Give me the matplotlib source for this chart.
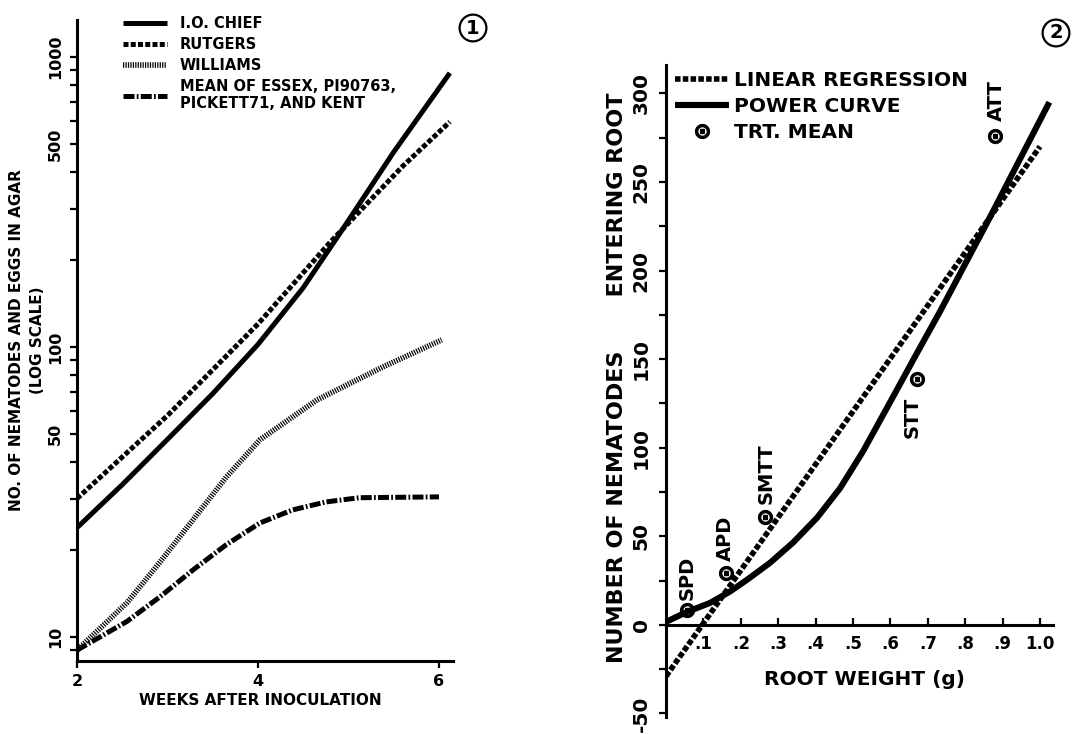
import numpy as np
import matplotlib.pyplot as plt
from matplotlib.ticker import FixedLocator, LogLocator, NullFormatter

plt.rcParams['font.family'] = ['DejaVu Sans']
plt.rcParams['font.weight'] = 'bold'
plt.rcParams['axes.labelweight'] = 'bold'

#%% data panel 1 (weeks after inoculation, log counts)
weeks_chief = [2.0, 2.5, 3.0, 3.5, 4.0, 4.5, 4.9, 5.5, 6.12]
chief = [23.8, 33.5, 48, 69, 102, 160, 245, 470, 880]

weeks_rutgers = [2.0, 3.0, 4.0, 4.8, 5.6, 6.12]
rutgers = [30, 58, 120, 230, 420, 597]

weeks_williams = [2.0, 2.55, 2.91, 3.28, 3.65, 4.02, 4.65, 5.38, 6.03]
williams = [9.0, 13.1, 18.0, 25.3, 35.6, 47.8, 65.6, 85.3, 105.7]

weeks_mean = [2.0, 2.55, 2.91, 3.28, 3.65, 4.02, 4.38, 4.75, 5.12, 6.0]
mean4 = [9.0, 11.3, 13.7, 17.0, 20.8, 24.7, 27.4, 29.2, 30.2, 30.4]

y1_ticks = [10, 50, 100, 500, 1000]
x1_ticks = [2, 4, 6]

#%% data panel 2 (root weight vs nematodes)
lin_x = [0.0, 1.0]
lin_y = [-29, 270]

pow_x = [0.0, 0.056, 0.118, 0.171, 0.217, 0.278, 0.34, 0.404, 0.465, 0.527,
         0.6, 0.67, 0.733, 0.866, 1.025]
pow_y = [1.7, 7.3, 12.4, 18.8, 25.5, 35, 46.5, 60.5, 77, 98,
         126, 153, 177, 230, 295]

trt_names = ['SPD', 'APD', 'SMTT', 'STT', 'ATT']
trt_x = [0.056, 0.16, 0.265, 0.67, 0.88]
trt_y = [8.5, 29, 61, 139, 276]

x2_ticks = [0.1, 0.2, 0.3, 0.4, 0.5, 0.6, 0.7, 0.8, 0.9, 1.0]
x2_labels = ['.1', '.2', '.3', '.4', '.5', '.6', '.7', '.8', '.9', '1.0']
y2_ticks = [-50, 0, 50, 100, 150, 200, 250, 300]
y2_minor = [-25, 25, 75, 125, 175, 225, 275]

fig = plt.figure(figsize=(10.88, 7.34), dpi=100)

################################################################################
#                                  panel 1                                     #
################################################################################
ax1 = fig.add_axes([77/1088, 73/734, 376/1088, 641/734])
ax1.set_yscale('log')
ax1.plot(weeks_chief, chief, color='k', lw=3.6, solid_capstyle='butt', label='I.O. CHIEF')
ax1.plot(weeks_rutgers, rutgers, color='k', lw=3.6, dashes=(1.0, 0.45),
         dash_capstyle='butt', label='RUTGERS')
ax1.plot(weeks_williams, williams, color='k', lw=4.0, dashes=(0.22, 0.22),
         dash_capstyle='butt', label='WILLIAMS')
ax1.plot(weeks_mean, mean4, color='k', lw=3.6, dashes=(2.2, 0.45, 0.35, 0.45),
         dash_capstyle='butt', label='MEAN OF ESSEX, PI90763,\nPICKETT71, AND KENT')

ax1.set_xlim(2, 2 + 376/90.5)
ax1.set_ylim(8.26, 1340)
for s in ['top', 'right']:
    ax1.spines[s].set_visible(False)
for s in ['left', 'bottom']:
    ax1.spines[s].set_linewidth(2.2)

ax1.yaxis.set_major_locator(FixedLocator(y1_ticks))
ax1.set_yticklabels([str(t) for t in y1_ticks], va='center')
ax1.yaxis.set_minor_locator(LogLocator(base=10, subs=np.arange(1, 10), numticks=20))
ax1.yaxis.set_minor_formatter(NullFormatter())
ax1.tick_params(axis='y', which='both', direction='out', length=5, width=1.6,
                pad=5, labelsize=11.5, labelrotation=90)
ax1.set_xticks(x1_ticks)
ax1.set_xticklabels([str(t) for t in x1_ticks])
ax1.tick_params(axis='x', direction='out', length=5, width=1.6, pad=4, labelsize=11.5)

ax1.set_xlabel('WEEKS AFTER INOCULATION', fontsize=11)
ax1.xaxis.set_label_coords(0.487, -0.05)
ax1.set_ylabel('NO. OF NEMATODES AND EGGS IN AGAR\n(LOG SCALE)', fontsize=11,
               linespacing=1.5)
ax1.yaxis.set_label_coords(-0.085, 0.5)

ax1.legend(loc='upper left', bbox_to_anchor=(123/1088, 1 - 16/734),
           bbox_transform=fig.transFigure, frameon=False, fontsize=10.5,
           handlelength=3.0, handletextpad=0.9, labelspacing=0.4,
           borderpad=0, borderaxespad=0)

fig.text(473/1088, 1 - 28/734, '1', ha='center', va='center', fontsize=14,
         bbox=dict(boxstyle='circle,pad=0.2', fc='none', ec='k', lw=1.6))

################################################################################
#                                  panel 2                                     #
################################################################################
ax2 = fig.add_axes([666/1088, 17/734, 387/1088, 652/734])
ax2.plot(lin_x, lin_y, color='k', lw=4.0, dashes=(1.0, 0.4), dash_capstyle='butt',
         label='LINEAR REGRESSION')
ax2.plot(pow_x, pow_y, color='k', lw=4.4, solid_capstyle='butt',
         solid_joinstyle='round', label='POWER CURVE')
ax2.plot(trt_x, trt_y, ls='none', marker='$\\odot$', ms=10, color='k',
         zorder=4, label='TRT. MEAN')

offsets = {'SPD': (0, 7, 'bottom'), 'APD': (0, 9, 'bottom'), 'SMTT': (1, 9, 'bottom'),
           'STT': (-3, -13, 'top'), 'ATT': (1, 11, 'bottom')}
for name, x, y in zip(trt_names, trt_x, trt_y):
    dx, dy, va = offsets[name]
    ax2.annotate(name, (x, y), xytext=(dx, dy), textcoords='offset points',
                 rotation=90, ha='center', va=va, fontsize=14)

ax2.set_xlim(0, 387/374)
ax2.set_ylim(-52, 316)
for s in ['top', 'right']:
    ax2.spines[s].set_visible(False)
for s in ['left', 'bottom']:
    ax2.spines[s].set_linewidth(2.2)
ax2.spines['bottom'].set_position(('data', 0))

ax2.set_xticks(x2_ticks)
ax2.set_xticklabels(x2_labels)
ax2.tick_params(axis='x', direction='in', length=5, width=1.6, pad=7, labelsize=12)
ax2.set_yticks(y2_ticks)
ax2.set_yticklabels([str(t) for t in y2_ticks], va='center')
ax2.yaxis.set_minor_locator(FixedLocator(y2_minor))
ax2.tick_params(axis='y', which='both', direction='out', length=5, width=1.6,
                pad=6, labelsize=14.5, labelrotation=90)

ax2.set_xlabel('ROOT WEIGHT (g)', fontsize=14.5)
ax2.xaxis.set_label_coords(0.514, 0.072)
ax2.set_ylabel('NUMBER OF NEMATODES       ENTERING ROOT', fontsize=16)
ax2.yaxis.set_label_coords(-0.101, 0.52)

ax2.legend(loc='upper left', bbox_to_anchor=(675/1088, 1 - 71/734),
           bbox_transform=fig.transFigure, frameon=False, fontsize=14.5,
           handlelength=2.7, handletextpad=0.25, labelspacing=0.35,
           borderpad=0, borderaxespad=0)

fig.text(1056/1088, 1 - 33/734, '2', ha='center', va='center', fontsize=14,
         bbox=dict(boxstyle='circle,pad=0.2', fc='none', ec='k', lw=1.6))

plt.savefig('out.png', dpi=100)
